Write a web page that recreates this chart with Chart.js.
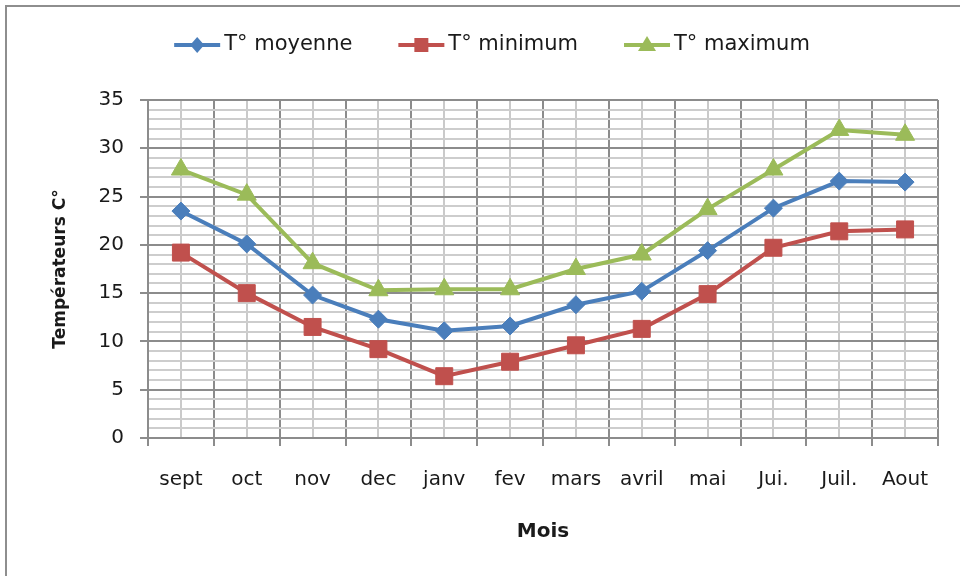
<!DOCTYPE html>
<html>
<head>
<meta charset="utf-8">
<script src="https://cdn.jsdelivr.net/npm/chart.js@4.4.1/dist/chart.umd.min.js"></script>
<style>
  html, body { margin: 0; padding: 0; background: #fff; overflow: hidden; }
  #frame { position: absolute; left: 5px; top: 5px; width: 1200px; height: 1200px; border: 2px solid #8e8e8e; }
  #wrap { position: absolute; left: 0; top: 0; width: 960px; height: 576px; }
</style>
</head>
<body>
<div id="frame"></div>
<div id="wrap"><canvas id="chart" width="960" height="576"></canvas></div>
<script>
// months on the x axis
const mois = ['sept', 'oct', 'nov', 'dec', 'janv', 'fev', 'mars', 'avril', 'mai', 'Jui.', 'Juil.', 'Aout'];

// temperatures
const tMoyenne = [23.5, 20.1, 14.8, 12.3, 11.1, 11.6, 13.8, 15.2, 19.4, 23.8, 26.6, 26.5];
const tMinimum = [19.2, 15.0, 11.5, 9.2, 6.4, 7.9, 9.6, 11.3, 14.9, 19.7, 21.4, 21.6];
const tMaximum = [27.8, 25.2, 18.1, 15.3, 15.4, 15.4, 17.5, 19.0, 23.7, 27.8, 31.9, 31.4];

const blue = '#4a7ebb';
const red = '#c0504d';
const green = '#9bbb59';

const tickFont = { family: 'DejaVu Sans', size: 20 };

// draws the legend the way Excel does: a short line with the marker on it
const excelLegend = {
    id: 'excelLegend',
    afterDraw(chart) {
        const ctx = chart.ctx;
        const items = chart.data.datasets;
        const iconW = 46, gap = 4, spacing = 46, cy = 45;
        ctx.save();
        ctx.font = '21px "DejaVu Sans"';
        let total = 0;
        items.forEach((ds, i) => {
            total += iconW + gap + ctx.measureText(ds.label).width;
            if (i < items.length - 1) total += spacing;
        });
        let x = 492 - total / 2;
        items.forEach((ds) => {
            ctx.strokeStyle = ds.borderColor;
            ctx.fillStyle = ds.borderColor;
            ctx.lineWidth = 4;
            ctx.beginPath();
            ctx.moveTo(x, cy);
            ctx.lineTo(x + iconW, cy);
            ctx.stroke();
            const mx = x + iconW / 2;
            ctx.beginPath();
            if (ds.pointStyle === 'rectRot') {
                ctx.moveTo(mx, cy - 8); ctx.lineTo(mx + 7, cy); ctx.lineTo(mx, cy + 8); ctx.lineTo(mx - 7, cy);
            } else if (ds.pointStyle === 'rect') {
                ctx.rect(mx - 7, cy - 7, 14, 14);
            } else {
                ctx.moveTo(mx, cy - 9); ctx.lineTo(mx + 9, cy + 6); ctx.lineTo(mx - 9, cy + 6);
            }
            ctx.closePath();
            ctx.fill();
            ctx.fillStyle = '#1a1a1a';
            ctx.textBaseline = 'middle';
            ctx.fillText(ds.label, x + iconW + gap, cy);
            x += iconW + gap + ctx.measureText(ds.label).width + spacing;
        });
        ctx.restore();
    }
};

function serie(label, data, color, style, radius) {
    return {
        label: label,
        data: data,
        borderColor: color,
        backgroundColor: color,
        borderWidth: 4,
        pointStyle: style,
        pointRadius: radius,
        pointHoverRadius: radius,
        pointBackgroundColor: color,
        pointBorderColor: color,
        pointBorderWidth: 1,
        tension: 0,
        xAxisID: 'x'
    };
}

new Chart(document.getElementById('chart'), {
    type: 'line',
    data: {
        labels: mois,
        datasets: [
            serie('T° moyenne', tMoyenne, blue, 'rectRot', 9),
            serie('T° minimum', tMinimum, red, 'rect', 12),
            serie('T° maximum', tMaximum, green, 'triangle', 11)
        ]
    },
    options: {
        responsive: false,
        animation: false,
        layout: { padding: { left: 50, right: 22, top: 100, bottom: 32 } },
        plugins: {
            legend: { display: false },
            tooltip: { enabled: false }
        },
        scales: {
            x: {
                type: 'category',
                offset: true,
                grid: { offset: true, color: '#8c8c8c', lineWidth: 2, tickLength: 8, tickColor: '#8c8c8c' },
                border: { color: '#8c8c8c', width: 2 },
                ticks: { font: tickFont, color: '#1a1a1a', padding: 22, autoSkip: false, maxRotation: 0 },
                title: { display: true, text: 'Mois', font: { family: 'DejaVu Sans', size: 20, weight: 'bold' }, color: '#1a1a1a', padding: 0 },
                afterFit(scale) { scale.height = 106; }
            },
            xMinor: {
                type: 'category',
                position: 'top',
                offset: true,
                grid: { offset: false, color: '#cacaca', lineWidth: 2, drawTicks: false },
                border: { display: false },
                ticks: { display: false },
                afterFit(scale) { scale.height = 0; }
            },
            y: {
                min: 0,
                max: 35,
                ticks: {
                    stepSize: 1,
                    maxTicksLimit: 40,
                    autoSkip: false,
                    font: tickFont,
                    color: '#1a1a1a',
                    padding: 16,
                    callback: (v) => (v % 5 === 0 ? v : '')
                },
                grid: {
                    color: (c) => (c.tick && c.tick.value % 5 === 0 ? '#8c8c8c' : '#cdcdcd'),
                    lineWidth: 2,
                    tickLength: 8,
                    tickColor: (c) => (c.tick && c.tick.value % 5 === 0 ? '#8c8c8c' : 'rgba(0,0,0,0)')
                },
                border: { color: '#8c8c8c', width: 2 },
                title: { display: true, text: 'Températeurs C°', font: { family: 'DejaVu Sans', size: 17, weight: 'bold' }, color: '#1a1a1a', padding: 0 },
                afterFit(scale) { scale.width = 98; }
            }
        }
    },
    plugins: [excelLegend]
});
</script>
</body>
</html>
